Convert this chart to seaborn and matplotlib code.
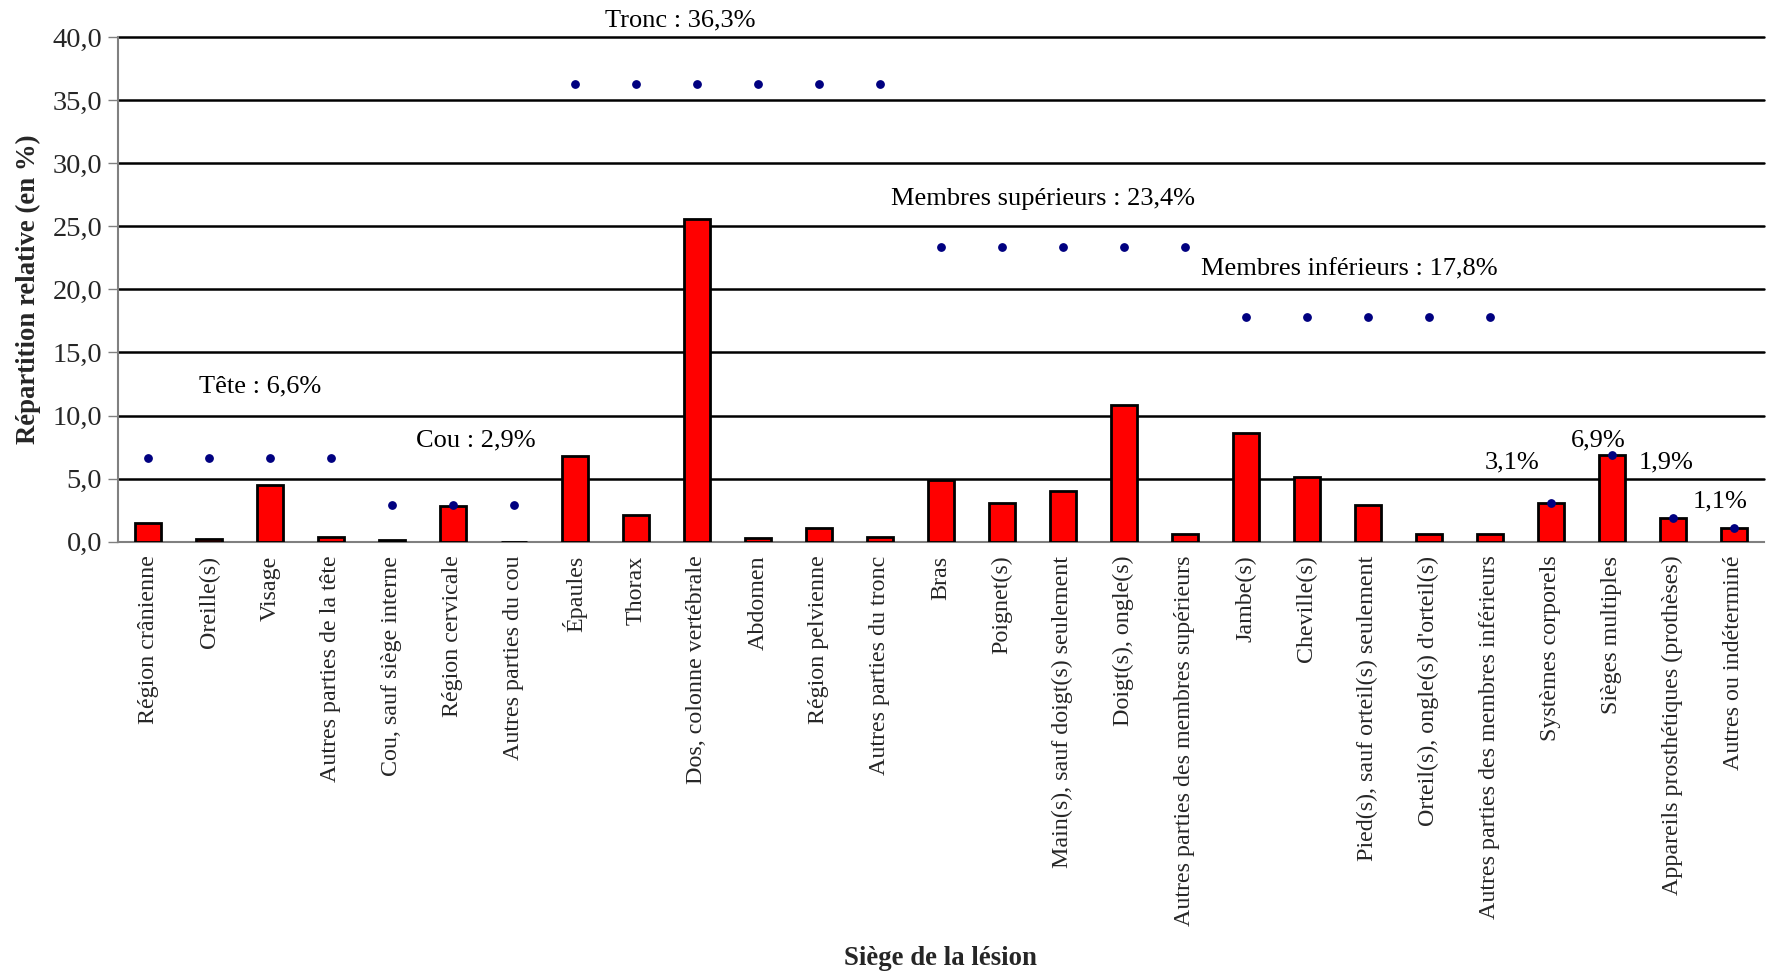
import numpy as np
import pandas as pd
import seaborn as sns
import matplotlib
matplotlib.use("Agg")
import matplotlib.pyplot as plt
from matplotlib.ticker import FuncFormatter

# Siège de la lésion : répartition relative (en %)
categories = [
    "Région crânienne", "Oreille(s)", "Visage", "Autres parties de la tête",
    "Cou, sauf siège interne", "Région cervicale", "Autres parties du cou",
    "Épaules", "Thorax", "Dos, colonne vertébrale", "Abdomen",
    "Région pelvienne", "Autres parties du tronc",
    "Bras", "Poignet(s)", "Main(s), sauf doigt(s) seulement", "Doigt(s), ongle(s)",
    "Autres parties des membres supérieurs",
    "Jambe(s)", "Cheville(s)", "Pied(s), sauf orteil(s) seulement",
    "Orteil(s), ongle(s) d'orteil(s)", "Autres parties des membres inférieurs",
    "Systèmes corporels", "Sièges multiples", "Appareils prosthétiques (prothèses)",
    "Autres ou indéterminé",
]
values = [
    1.5, 0.2, 4.5, 0.4,
    0.1, 2.8, 0.0,
    6.8, 2.1, 25.6, 0.3, 1.1, 0.4,
    4.9, 3.1, 4.0, 10.8, 0.6,
    8.6, 5.1, 2.9, 0.6, 0.6,
    3.1, 6.9, 1.9, 1.1,
]

# Regroupements : nom, total (%), nombre de sièges couverts
group_names = ["Tête", "Cou", "Tronc", "Membres supérieurs", "Membres inférieurs",
               "", "", "", ""]
group_totals = [6.6, 2.9, 36.3, 23.4, 17.8, 3.1, 6.9, 1.9, 1.1]
group_sizes = [4, 3, 6, 5, 5, 1, 1, 1, 1]
group_label_x = [1.83, 5.37, 8.72, 14.67, 19.69, 22.37, 23.78, 24.89, 25.78]
group_label_y = [12.3, 8.05, 41.3, 27.15, 21.55, 6.26, 8.05, 6.26, 3.2]

y_ticks = [0, 5, 10, 15, 20, 25, 30, 35, 40]

sns.set_theme(style="white")
plt.rcParams["font.family"] = ["Liberation Serif", "DejaVu Serif"]

df = pd.DataFrame({"siege": categories, "pct": values})
dots = np.repeat(group_totals, group_sizes)
positions = np.arange(len(categories))

fig = plt.figure(figsize=(17.73, 9.71), dpi=100)
ax = fig.add_axes([0.0663, 0.4422, 0.9287, 0.5194])

sns.barplot(data=df, x="siege", y="pct", color="#FF0000", edgecolor="black",
            linewidth=2, width=0.43, saturation=1, ax=ax, zorder=3)
ax.scatter(positions, dots, s=28, color="#000080", zorder=5, clip_on=False)

def fmt(v):
    return f"{v:.1f}".replace(".", ",")

for name, tot, lx, ly in zip(group_names, group_totals, group_label_x, group_label_y):
    label = f"{name} : {fmt(tot)}%" if name else f"{fmt(tot)}%"
    ax.text(lx, ly, label, ha="center", va="center", fontsize=19,
            color="black", clip_on=False, zorder=6)

ax.set_xlim(-0.5, len(categories) - 0.5)
ax.set_ylim(0, 40)
ax.set_yticks(y_ticks)
ax.yaxis.set_major_formatter(FuncFormatter(lambda v, p: fmt(v)))
for t in y_ticks[1:]:
    ax.axhline(t, color="black", lw=1.8, zorder=1, clip_on=False)

ax.set_xticks(positions)
ax.set_xticklabels(categories, rotation=90, fontsize=17.3)
ax.tick_params(axis="y", labelsize=20.5, length=7, width=1, color="#808080",
               direction="out", left=True, pad=4)
ax.tick_params(axis="x", length=0, pad=10)

for side in ["top", "right"]:
    ax.spines[side].set_visible(False)
for side in ["left", "bottom"]:
    ax.spines[side].set_color("#808080")
    ax.spines[side].set_linewidth(1.5)

ax.set_xlabel("")
fig.text(0.5305, 0.0125, "Siège de la lésion", fontsize=19.3, fontweight="bold",
         ha="center", va="center")
ax.set_ylabel("Répartition relative (en %)", fontsize=19.3, fontweight="bold", labelpad=8)

fig.savefig("out.png", dpi=100)
